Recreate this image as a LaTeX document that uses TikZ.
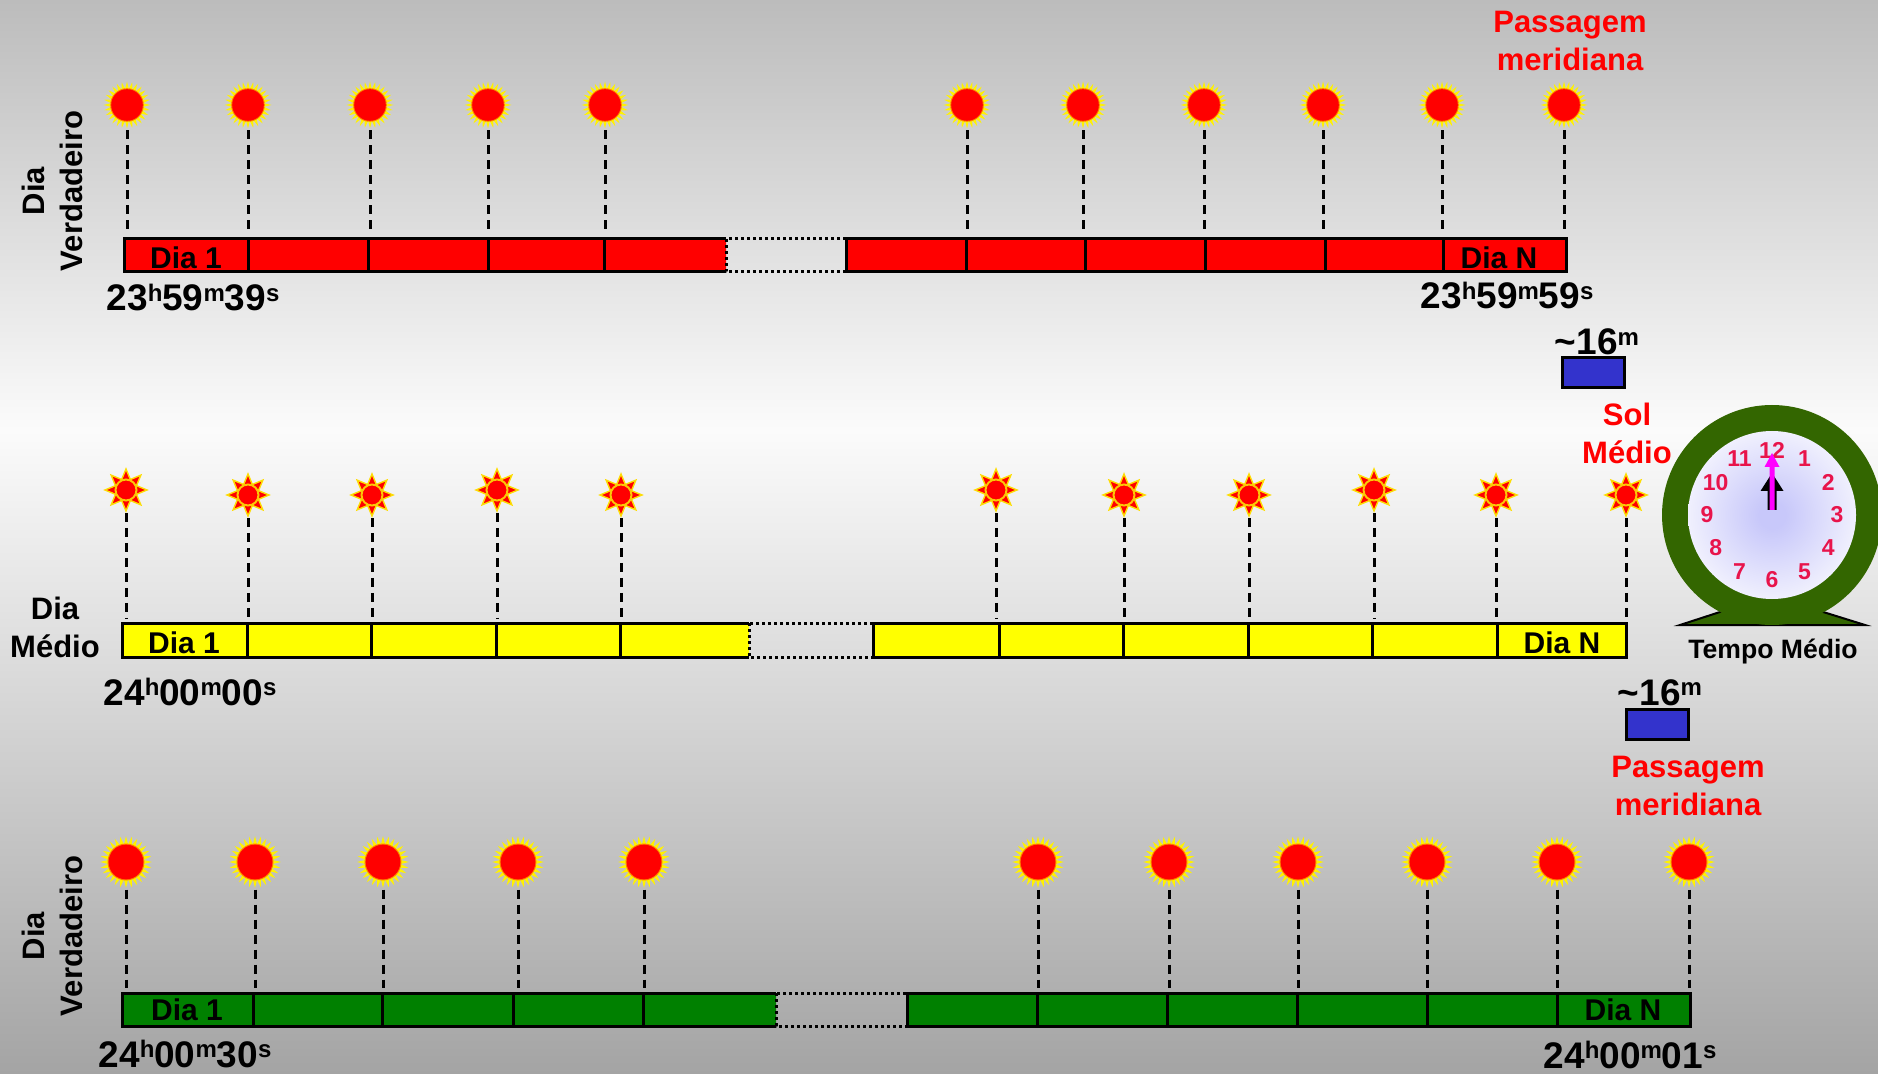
\documentclass[tikz,border=0pt]{standalone}
\usepackage{fontspec}
\setmainfont{Liberation Sans}
\usetikzlibrary{shapes.geometric}

\definecolor{dayred}{RGB}{255,0,0}
\definecolor{dayyellow}{RGB}{255,255,0}
\definecolor{daygreen}{RGB}{0,128,0}
\definecolor{lagblue}{RGB}{51,51,204}
\definecolor{clockgreen}{RGB}{51,102,0}
\definecolor{clocknum}{RGB}{232,20,75}
\definecolor{hand}{RGB}{255,0,255}
\definecolor{dialblue}{RGB}{200,200,250}
\definecolor{bgtop}{RGB}{188,188,188}
\definecolor{bgmid}{RGB}{251,251,251}
\definecolor{bgbot}{RGB}{164,164,164}

\pgfdeclareradialshading{dial}{\pgfpoint{0bp}{0bp}}{color(0bp)=(dialblue); color(4bp)=(dialblue); color(33bp)=(white); color(50bp)=(white)}

\tikzstyle{sun}=[star, star points=28, star point ratio=1.45, fill=yellow, inner sep=0pt, minimum size=23.5pt,
    path picture={\fill[orange] (path picture bounding box.center) circle (8.4pt);
                  \fill[dayred] (path picture bounding box.center) circle (7.9pt);}]
\tikzstyle{ray}=[star, star points=8, star point ratio=1.85, fill=dayred, draw=yellow!80!orange, line width=0.7pt, inner sep=0pt, minimum size=21pt]
\tikzstyle{core}=[circle, fill=dayred, draw=yellow!60!orange, line width=1pt, inner sep=0pt, minimum size=10.5pt]
\tikzstyle{drop}=[draw, line width=1.5pt, dash pattern=on 4.5pt off 3pt]
\tikzstyle{seg}=[draw, line width=1.5pt]
\tikzstyle{gap}=[draw, line width=1.5pt, dash pattern=on 1.5pt off 1.5pt]
\tikzstyle{daylabel}=[font=\fontsize{15}{18}\selectfont\bfseries, inner sep=0pt]
\tikzstyle{tag}=[font=\fontsize{15.5}{19}\selectfont\bfseries, align=center, inner sep=0pt]
\tikzstyle{stamp}=[font=\fontsize{18.5}{22}\selectfont\bfseries, inner sep=0pt, anchor=base]
\tikzstyle{lag}=[rectangle, draw, fill=lagblue, line width=1.5pt, minimum width=31pt, minimum height=15pt, inner sep=0pt]
\tikzstyle{hour}=[font=\fontsize{11.5}{13}\selectfont\bfseries, text=clocknum, inner sep=0pt]

% raised h, m, s after the digits
\newcommand\hms[1]{\raisebox{4.6pt}{\fontsize{12}{12}\selectfont #1}}

\begin{document}
\begin{tikzpicture}[x=0.5pt, y=-0.5pt]
    \useasboundingbox (0,0) rectangle (1878,1074);
    % Grey backdrop, lightest around the middle row
    \shade[top color=bgtop, bottom color=bgmid] (0,0) rectangle (1878,430);
    \shade[top color=bgmid, bottom color=bgbot] (0,430) rectangle (1878,1074);

    % True days, upper row
    \fill[dayred] (124,239) rectangle (726,272) (846,239) rectangle (1566,272);
    \draw[seg] (726,239) -| (124,272) -- (726,272);
    \draw[seg] (846,239) rectangle (1566,272);
    \draw[gap] (726,239) rectangle (846,272);
    \foreach \x in {248,368,488,604,966,1085,1205,1325,1443}
        \draw[seg] (\x,239) -- (\x,272);
    \node[daylabel] (t1d) at (186,258) {Dia 1};
    \node[daylabel] (tNd) at (1499,258) {Dia N};

    \coordinate (ttop) at (0,230);
    \foreach \x [count=\i] in {127,248,370,488,605,967,1083,1204,1323,1442,1564}
        \node[sun] (t\i) at (\x,105) {};
    \foreach \i in {1,...,11}
        \path[drop] (t\i.south) -- (t\i |- ttop);

    \node[tag, rotate=90] (tlab) at (52,191) {Dia\\Verdadeiro};
    \node[stamp] (tsA) at (193,311) {23\hms{h}59\hms{m}39\hms{s}};
    \node[stamp] (tsN) at (1507,309) {23\hms{h}59\hms{m}59\hms{s}};
    \node[tag, text=dayred] (pass1) at (1570,41) {Passagem\\meridiana};

    \node[lag] (lag1) at (1593,373) {};
    \node[stamp] (lag1t) at (1597,355) {\textasciitilde16\hms{m}};
    \node[tag, text=dayred] (solm) at (1627,433) {Sol\\Médio};

    % Mean days, middle row
    \fill[dayyellow] (122,623) rectangle (749,657) (873,623) rectangle (1626,657);
    \draw[seg] (749,623) -| (122,657) -- (749,657);
    \draw[seg] (873,623) rectangle (1626,657);
    \draw[gap] (749,623) rectangle (873,657);
    \foreach \x in {247,371,496,620,999,1123,1248,1372,1497}
        \draw[seg] (\x,623) -- (\x,657);
    \node[daylabel] (m1d) at (184,643) {Dia 1};
    \node[daylabel] (mNd) at (1562,643) {Dia N};

    \coordinate (mtop) at (0,618);
    \foreach \x/\y [count=\i] in {126/490,248/495,372/495,497/490,621/495,996/490,1124/495,1249/495,1374/490,1496/495,1626/495} {
        \node[ray] (m\i) at (\x,\y) {};
        \node[core] (m\i c) at (m\i) {};
    }
    \foreach \i in {1,...,11}
        \path[drop] (m\i.south) -- (m\i |- mtop);

    \node[tag] (mlab) at (55,627) {Dia\\Médio};
    \node[stamp] (msA) at (190,705) {24\hms{h}00\hms{m}00\hms{s}};

    \node[lag] (lag2) at (1657,724) {};
    \node[stamp] (lag2t) at (1660,705) {\textasciitilde16\hms{m}};
    \node[tag, text=dayred] (pass2) at (1688,786) {Passagem\\meridiana};

    % True days, lower row
    \fill[daygreen] (122,993) rectangle (776,1026) (907,993) rectangle (1690,1026);
    \draw[seg] (776,993) -| (122,1026) -- (776,1026);
    \draw[seg] (907,993) rectangle (1690,1026);
    \draw[gap] (776,993) rectangle (907,1026);
    \foreach \x in {253,382,513,643,1037,1167,1297,1427,1557}
        \draw[seg] (\x,993) -- (\x,1026);
    \node[daylabel] (b1d) at (187,1010) {Dia 1};
    \node[daylabel] (bNd) at (1623,1010) {Dia N};

    \coordinate (btop) at (0,988);
    \foreach \x [count=\i] in {126,255,383,518,644,1038,1169,1298,1427,1557,1689}
        \node[sun, scale=1.1] (b\i) at (\x,862) {};
    \foreach \i in {1,...,11}
        \path[drop] (b\i.south) -- (b\i |- btop);

    \node[tag, rotate=90] (blab) at (52,936) {Dia\\Verdadeiro};
    \node[stamp] (bsA) at (185,1067) {24\hms{h}00\hms{m}30\hms{s}};
    \node[stamp] (bsN) at (1630,1068) {24\hms{h}00\hms{m}01\hms{s}};

    % Mean time clock
    \begin{scope}[shift={(1772,515)}]
        \draw[fill=clockgreen, line width=1pt] (-92,110) -- (-49,96) -- (48,96) -- (93,110) -- cycle;
        \fill[clockgreen] (0,0) circle (110);
        \shade[shading=dial] (0,0) circle (84);
        \foreach \h in {1,...,12}
            \node[hour] (h\h) at ({30*\h-90}:65) {\h};
        \fill (-4.5,-5) -- (-4.5,-24) -- (-11.5,-24) -- (0,-42) -- (11.5,-24) -- (4.5,-24) -- (4.5,-5) -- cycle;
        \fill[hand] (-2.5,-5) -- (-2.5,-48) -- (-7.5,-48) -- (0,-62) -- (7.5,-48) -- (2.5,-48) -- (2.5,-5) -- cycle;
    \end{scope}
    \node[font=\fontsize{13.3}{16}\selectfont\bfseries, anchor=base] (tempo) at (1773,658) {Tempo Médio};
\end{tikzpicture}
\end{document}
